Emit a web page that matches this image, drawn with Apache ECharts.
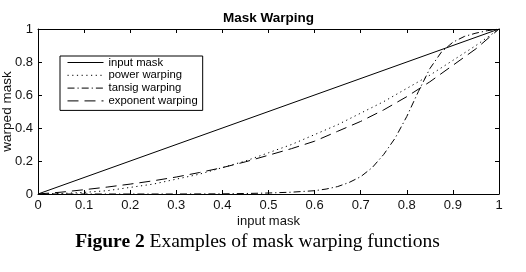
<!DOCTYPE html>
<html><head><meta charset="utf-8">
<script src="https://cdn.jsdelivr.net/npm/echarts@6/dist/echarts.min.js"></script>
<style>html,body{margin:0;padding:0;background:#fff}#c{width:526px;height:272px}</style>
</head><body><div id="c"></div>
<script>
// ---- data ----
const inputX = [0, 1];
const inputY = [0, 1];

const powerX = [0,0.05,0.1,0.15,0.2,0.25,0.3,0.35,0.4,0.45,0.5,0.55,0.6,0.65,0.7,0.75,0.8,0.85,0.9,0.95,1];
const powerY = [0,0.003,0.01,0.02,0.04,0.06,0.09,0.12,0.16,0.2,0.25,0.3,0.36,0.42,0.49,0.56,0.64,0.72,0.81,0.9,1];

const tansigX = [0,0.1,0.2,0.3,0.4,0.45,0.5,0.55,0.6,0.625,0.65,0.675,0.7,0.725,0.75,0.775,0.8,0.825,0.85,0.875,0.9,0.925,0.95,0.975,1];
const tansigY = [0,0,0,0,0.001,0.003,0.006,0.011,0.02,0.03,0.045,0.07,0.105,0.16,0.24,0.34,0.47,0.62,0.76,0.86,0.92,0.955,0.975,0.99,1];

const expX = [0,0.05,0.1,0.15,0.2,0.25,0.3,0.35,0.4,0.45,0.5,0.55,0.6,0.65,0.7,0.75,0.8,0.85,0.9,0.95,1];
const expY = [0,0.011,0.026,0.042,0.06,0.08,0.103,0.13,0.16,0.195,0.235,0.275,0.32,0.38,0.44,0.51,0.59,0.68,0.78,0.88,1];

const seriesNames = ['input mask','power warping','tansig warping','exponent warping'];
const xTitle = 'input mask';
const yTitle = 'warped mask';
const chartTitle = 'Mask Warping';
const captionBold = 'Figure 2';
const captionRest = ' Examples of mask warping functions';

const pairs = (xs, ys) => xs.map((x, i) => [x, ys[i]]);
const FONT = '"Liberation Sans", Arial, Helvetica, sans-serif';
const SERIF = '"Liberation Serif", "Times New Roman", serif';

const chart = echarts.init(document.getElementById('c'), null, {renderer: 'canvas'});
const axisCommon = {
  type: 'value', min: 0, max: 1, interval: 0.1,
  axisLine: {show: true, onZero: false, lineStyle: {color: '#000', width: 1}},
  axisTick: {show: true, inside: true, length: 4, lineStyle: {color: '#000'}},
  splitLine: {show: false}
};
function lineSeries(name, data, type) {
  return {
    name, type: 'line', data, xAxisIndex: 0, yAxisIndex: 0,
    symbol: 'none', showSymbol: false, smooth: false, animation: false,
    lineStyle: {color: '#000', width: 1, type: type},
    itemStyle: {color: '#000'}
  };
}
chart.setOption({
  animation: false,
  backgroundColor: '#fff',
  grid: {left: 38, right: 27, top: 29, bottom: 78, containLabel: false, outerBoundsMode: 'none'},
  xAxis: [
    Object.assign({}, axisCommon, {
      position: 'bottom', name: xTitle, nameLocation: 'middle', nameGap: 21, nameMoveOverlap: false,
      nameTextStyle: {fontFamily: FONT, fontSize: 13, color: '#111'},
      axisLabel: {fontFamily: FONT, fontSize: 13, color: '#111', margin: 5}
    }),
    Object.assign({}, axisCommon, {position: 'top', axisLabel: {show: false}})
  ],
  yAxis: [
    Object.assign({}, axisCommon, {
      interval: 0.2, position: 'left', name: yTitle, nameLocation: 'middle', nameGap: 24, nameMoveOverlap: false,
      nameTextStyle: {fontFamily: FONT, fontSize: 13.5, color: '#111'},
      axisLabel: {fontFamily: FONT, fontSize: 13, color: '#111', margin: 5}
    }),
    Object.assign({}, axisCommon, {interval: 0.2, position: 'right', axisLabel: {show: false}})
  ],
  legend: {
    orient: 'vertical', left: 60, top: 56,
    padding: [1, 5, 4, 7], itemGap: 1.8, itemWidth: 36, itemHeight: 12,
    backgroundColor: '#fff', borderColor: '#000', borderWidth: 1, borderRadius: 0,
    itemStyle: {color: 'rgba(0,0,0,0)', borderWidth: 0, opacity: 0},
    lineStyle: {width: 1},
    textStyle: {fontFamily: FONT, fontSize: 11.3, color: '#000'},
    data: seriesNames, selectedMode: false
  },
  series: [
    lineSeries(seriesNames[0], pairs(inputX, inputY), 'solid'),
    lineSeries(seriesNames[1], pairs(powerX, powerY), [1.2, 3.5]),
    lineSeries(seriesNames[2], pairs(tansigX, tansigY), [7, 3, 1.2, 3]),
    lineSeries(seriesNames[3], pairs(expX, expY), [11, 6])
  ],
  graphic: [
    {type: 'text', x: 268.5, y: 18, style: {
      text: chartTitle, fontFamily: FONT, fontSize: 13.5, fontWeight: 'bold', fill: '#000',
      align: 'center', verticalAlign: 'middle', textAlign: 'center', textVerticalAlign: 'middle'}},
    {type: 'text', x: 257.5, y: 242, style: {
      text: '{b|' + captionBold + '}{r|' + captionRest + '}',
      rich: {
        b: {fontFamily: SERIF, fontSize: 19.5, fontWeight: 'bold', fill: '#000'},
        r: {fontFamily: SERIF, fontSize: 19.5, fontWeight: 'normal', fill: '#000'}
      },
      fontFamily: SERIF, fontSize: 19.5, fill: '#000',
      align: 'center', verticalAlign: 'middle', textAlign: 'center', textVerticalAlign: 'middle'}}
  ]
});
</script></body></html>
